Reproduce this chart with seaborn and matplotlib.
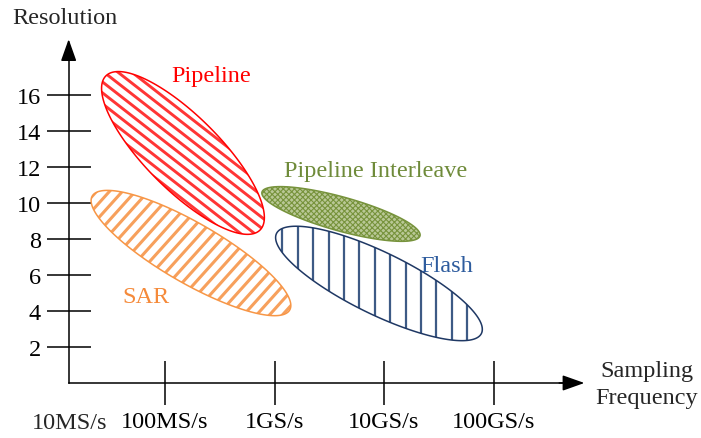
import numpy as np
import matplotlib
matplotlib.use('Agg')
import matplotlib.pyplot as plt
from matplotlib.collections import LineCollection
import seaborn as sns

# ADC architectures: centre of each region (log10 frequency decade index, resolution bits)
architectures = ['Pipeline', 'SAR', 'Pipeline Interleave', 'Flash']
center_decade = [1.164, 1.237, 2.607, 2.954]
center_bits = [12.78, 7.22, 9.39, 5.53]
# spread of each region along / across its main direction (pixels) and tilt (degrees)
spread_major = [109, 114, 82, 114]
spread_minor = [37, 30, 17, 31]
tilt_deg = [-45, -30, -15.5, -26]

label_decade = [1.42, 0.83, 2.92, 3.57]
label_bits = [17.1, 4.83, 11.8, 6.5]

freq_ticks = [1, 2, 3, 4]
freq_labels = ['100MS/s', '1GS/s', '10GS/s', '100GS/s']
origin_label = '10MS/s'
bit_ticks = [2, 4, 6, 8, 10, 12, 14, 16]

edge_colors = ['#ff0000', '#f79646', '#77933c', '#1f3864']
text_colors = ['#ff0000', '#f58a3a', '#6f8b3a', '#2e5c9e']
face_colors = ['none', 'none', '#b9c896', 'none']
# stripe pattern: angle (deg), spacing (px), width (pt), colour; None -> crosshatch
stripe_angle = [-38, 48, None, 90]
stripe_gap = [8.6, 9.6, None, 15.4]
stripe_width = [2.1, 2.2, None, 1.6]
stripe_colors = ['#ff3535', '#f7a05c', None, '#3d5a85']

sns.set_theme(style='white')
plt.rcParams['font.family'] = ['Liberation Serif', 'DejaVu Serif']

fig = plt.figure(figsize=(7.01, 4.39), dpi=100)
ax = fig.add_axes([0, 0, 1, 1])
ax.set_xlim(-0.507, 5.895)
ax.set_ylim(-3.056, 21.333)

x0 = 0.12
fs = 17.5

# axes with arrows
for side in ['top', 'right']:
    ax.spines[side].set_visible(False)
ax.spines['left'].set_position(('data', x0))
ax.spines['bottom'].set_position(('data', 0))
ax.spines['left'].set_bounds(0, 18.5)
ax.spines['bottom'].set_bounds(x0, 4.7)
for side in ['left', 'bottom']:
    ax.spines[side].set_color('black')
    ax.spines[side].set_linewidth(1.1)

arrow = dict(arrowstyle='-|>,head_length=0.9,head_width=0.32', color='black',
             lw=1.1, mutation_scale=15, shrinkA=0, shrinkB=0)
ax.annotate('', xy=(x0, 19.1), xytext=(x0, 18.0), arrowprops=arrow)
ax.annotate('', xy=(4.83, 0), xytext=(4.6, 0), arrowprops=arrow)

ax.set_xticks(freq_ticks)
ax.set_xticklabels(freq_labels)
ax.set_yticks(bit_ticks)
ax.set_yticklabels([str(b) for b in bit_ticks])
ax.tick_params(axis='both', direction='inout', length=32, width=1.1,
               color='black', labelsize=fs, labelcolor='black', pad=4,
               bottom=True, left=True)
ax.tick_params(axis='x', pad=4)

ax.text(x0 + 0.01, -2.2, origin_label, ha='center', va='center', fontsize=fs)
ax.text(0.087, 20.3, 'Resolution', ha='center', va='center', fontsize=fs)
ax.text(5.40, -0.05, 'Sampling\nFrequency', ha='center', va='center',
        fontsize=fs, linespacing=1.4)

# hatched regions
fig.canvas.draw()
t = np.linspace(0, 2 * np.pi, 300)
inv = ax.transData.inverted()
for i, name in enumerate(architectures):
    cx, cy = ax.transData.transform((center_decade[i], center_bits[i]))
    th = np.deg2rad(tilt_deg[i])
    u = spread_major[i] * np.cos(t)
    v = spread_minor[i] * np.sin(t)
    px = cx + u * np.cos(th) - v * np.sin(th)
    py = cy + u * np.sin(th) + v * np.cos(th)
    pts = inv.transform(np.column_stack([px, py]))
    if stripe_angle[i] is None:
        with plt.rc_context({'hatch.linewidth': 0.8}):
            poly = ax.fill(pts[:, 0], pts[:, 1], facecolor=face_colors[i],
                           edgecolor=edge_colors[i], hatch='xxxxxx',
                           linewidth=1.1, zorder=3)[0]
    else:
        poly = ax.fill(pts[:, 0], pts[:, 1], facecolor='none',
                       edgecolor=edge_colors[i], linewidth=1.1, zorder=3)[0]
        al = np.deg2rad(stripe_angle[i])
        d = np.array([np.cos(al), np.sin(al)])
        n = np.array([-np.sin(al), np.cos(al)])
        R = spread_major[i] + 5
        segs = []
        for k in np.arange(-R, R, stripe_gap[i]):
            p0 = np.array([cx, cy]) + k * n - R * d
            p1 = np.array([cx, cy]) + k * n + R * d
            segs.append(inv.transform(np.vstack([p0, p1])))
        lc = LineCollection(segs, colors=stripe_colors[i],
                            linewidths=stripe_width[i], zorder=2)
        ax.add_collection(lc)
        lc.set_clip_path(poly)
    ax.text(label_decade[i], label_bits[i], name, ha='center', va='center',
            fontsize=fs, color=text_colors[i])

fig.savefig('out.png', dpi=100)
